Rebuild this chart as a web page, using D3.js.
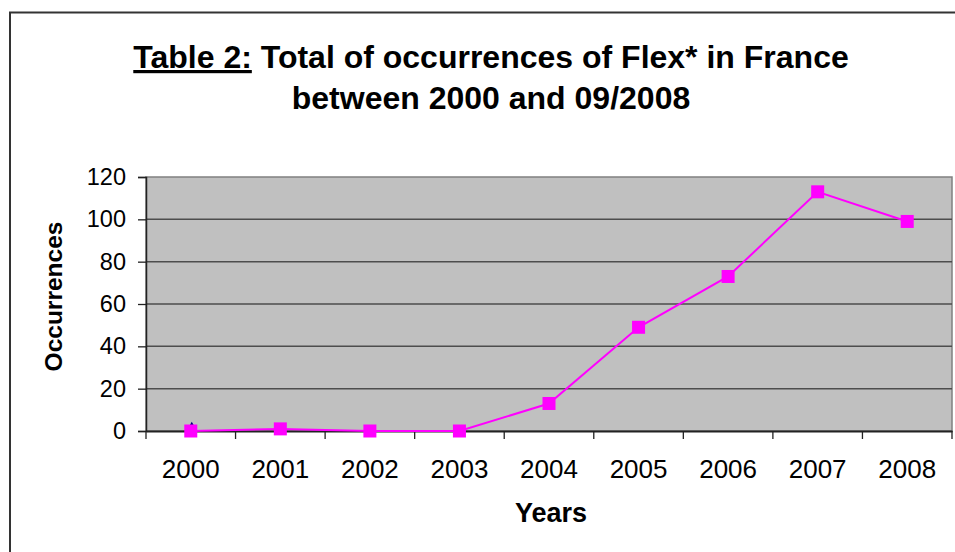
<!DOCTYPE html>
<html>
  <head>
    <meta charset="utf-8">
    <title>Flex* occurrences in France</title>
    <script src="https://d3js.org/d3.v7.min.js"></script>
    <style>
      body { margin: 0; background: white; }
      svg { background-color: white; }
      text { font-family: Arial, "Liberation Sans", sans-serif; fill: #000; }
      .title { font-weight: bold; font-size: 32px; }
      .axis-title { font-weight: bold; }
      .y-label { font-size: 23.5px; }
      .x-label { font-size: 26px; }
      .grid { stroke: #4d4d4d; stroke-width: 1.5px; }
    </style>
  </head>
  <body>
    <svg></svg>
    <script>
      // data
      var years = ["2000", "2001", "2002", "2003", "2004", "2005", "2006", "2007", "2008"];
      var occurrences = [0, 1, 0, 0, 13, 49, 73, 113, 99];
      var hiddenYears = ["2000"];
      var hiddenValues = [1];
      var yTicks = [0, 20, 40, 60, 80, 100, 120];

      // layout
      var svgWidth = 955,
          svgHeight = 552,
          plot = {left: 146, top: 177, right: 952, bottom: 431};

      var svg = d3.select("svg")
        .attr("width", svgWidth)
        .attr("height", svgHeight);

      // outer frame
      svg.append("rect")
        .attr("x", 10).attr("y", 12.5)
        .attr("width", 1000).attr("height", 600)
        .attr("fill", "white")
        .attr("stroke", "#333").attr("stroke-width", 2);

      var x = d3.scaleBand().domain(years).range([plot.left, plot.right]);
      var y = d3.scaleLinear().domain([0, 120]).range([plot.bottom, plot.top]);

      // plot area
      svg.append("rect")
        .attr("x", plot.left).attr("y", plot.top)
        .attr("width", plot.right - plot.left).attr("height", plot.bottom - plot.top)
        .attr("fill", "#c0c0c0")
        .attr("stroke", "#808080").attr("stroke-width", 1.5);

      svg.append("g").selectAll("line")
        .data(yTicks.filter(function(d){ return d > 0 && d < 120; }))
        .enter().append("line")
          .classed("grid", true)
          .attr("x1", plot.left).attr("x2", plot.right)
          .attr("y1", function(d){ return y(d); })
          .attr("y2", function(d){ return y(d); });

      // y axis
      var yAxis = svg.append("g")
        .attr("transform", "translate(" + plot.left + ",0)")
        .call(d3.axisLeft(y).tickValues(yTicks).tickSize(8).tickPadding(12));
      yAxis.select(".domain").attr("stroke", "#222").attr("stroke-width", 1.5);
      yAxis.selectAll(".tick line").attr("stroke", "#222").attr("stroke-width", 1.3);
      yAxis.selectAll(".tick text").attr("class", "y-label");
      yAxis.attr("font-size", null).attr("font-family", null);

      // x axis
      var xAxis = svg.append("g")
        .attr("transform", "translate(0," + plot.bottom + ")")
        .call(d3.axisBottom(x).tickSize(0).tickPadding(29));
      xAxis.select(".domain").attr("stroke", "#222").attr("stroke-width", 2);
      xAxis.selectAll(".tick text").attr("class", "x-label");
      xAxis.attr("font-size", null).attr("font-family", null);
      xAxis.selectAll(".sep")
        .data(years.map(function(d){ return x(d); }).concat([plot.right]))
        .enter().append("line")
          .attr("x1", function(d){ return d; }).attr("x2", function(d){ return d; })
          .attr("y1", 0).attr("y2", 8)
          .attr("stroke", "#222").attr("stroke-width", 1.3);

      var cx = function(d){ return x(d) + x.bandwidth() / 2; };

      // hidden second series (only peeking at 2000)
      svg.append("g").selectAll("path")
        .data(hiddenYears)
        .enter().append("path")
          .attr("d", d3.symbol().type(d3.symbolDiamond).size(60))
          .attr("transform", function(d, i){ return "translate(" + [cx(d) + 1, y(hiddenValues[i])] + ")"; })
          .attr("fill", "#000080");

      // main series
      var line = d3.line()
        .x(function(d, i){ return cx(years[i]); })
        .y(function(d){ return y(d); });

      svg.append("path")
        .datum(occurrences)
        .attr("d", line)
        .attr("fill", "none")
        .attr("stroke", "#ff00ff")
        .attr("stroke-width", 2);

      svg.append("g").selectAll("rect")
        .data(occurrences)
        .enter().append("rect")
          .attr("x", function(d, i){ return cx(years[i]) - 6.5; })
          .attr("y", function(d){ return y(d) - 6.5; })
          .attr("width", 13).attr("height", 13)
          .attr("fill", "#ff00ff");

      // titles
      var title = svg.append("text")
        .attr("class", "title")
        .attr("x", 491).attr("y", 68)
        .attr("text-anchor", "middle");
      title.append("tspan").attr("text-decoration", "underline").text("Table 2:");
      title.append("tspan").text(" Total of occurrences of Flex* in France");

      svg.append("text")
        .attr("class", "title")
        .attr("x", 491).attr("y", 109)
        .attr("text-anchor", "middle")
        .text("between 2000 and 09/2008");

      svg.append("text")
        .attr("class", "axis-title")
        .attr("x", 551).attr("y", 522)
        .attr("font-size", 27)
        .attr("text-anchor", "middle")
        .text("Years");

      svg.append("text")
        .attr("class", "axis-title")
        .attr("font-size", 24.5)
        .attr("transform", "translate(62,296.5) rotate(-90)")
        .attr("text-anchor", "middle")
        .text("Occurrences");
    </script>
  </body>
</html>
